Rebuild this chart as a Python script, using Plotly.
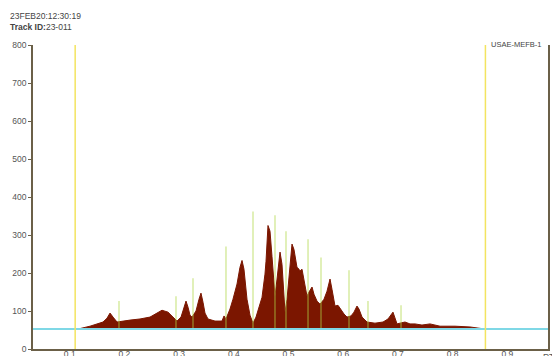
import plotly.graph_objects as go

# ---- data ----
rt = [0.1097, 0.1152, 0.1371, 0.1609, 0.1682, 0.1737, 0.1792, 0.1865, 0.2102, 0.2285,
      0.2468, 0.2578, 0.2687, 0.2797, 0.2888, 0.2962, 0.3035, 0.3090, 0.3126, 0.3163,
      0.3199, 0.3236, 0.3309, 0.3364, 0.3400, 0.3437, 0.3473, 0.3528, 0.3656, 0.3784,
      0.3821, 0.3857, 0.3930, 0.3985, 0.4059, 0.4113, 0.4150, 0.4186, 0.4241, 0.4296,
      0.4351, 0.4406, 0.4461, 0.4516, 0.4570, 0.4589, 0.4625, 0.4662, 0.4698, 0.4735,
      0.4753, 0.4790, 0.4826, 0.4845, 0.4881, 0.4918, 0.4936, 0.4973, 0.5009, 0.5046,
      0.5064, 0.5100, 0.5137, 0.5155, 0.5192, 0.5210, 0.5247, 0.5283, 0.5338, 0.5375,
      0.5430, 0.5466, 0.5521, 0.5576, 0.5649, 0.5704, 0.5759, 0.5795, 0.5850, 0.5905,
      0.5960, 0.6015, 0.6070, 0.6143, 0.6197, 0.6252, 0.6289, 0.6344, 0.6435, 0.6581,
      0.6728, 0.6819, 0.6910, 0.6947, 0.6984, 0.7038, 0.7130, 0.7221, 0.7313, 0.7440,
      0.7587, 0.7770, 0.8044, 0.8318, 0.8501, 0.8592]
signal = [52.5, 52.5, 60, 71, 81, 94.5, 84, 71, 76, 79,
          84, 92, 102, 97, 84, 73.5, 84, 110, 126, 110,
          89, 84, 100, 131, 147, 123, 94.5, 79, 73.5, 73.5,
          87, 79, 105, 131, 171, 215, 233, 210, 131, 89,
          68, 84, 110, 136, 197, 231, 325, 310, 244, 171,
          139, 184, 241, 255, 223, 142, 97, 131, 197, 257,
          276, 262, 231, 215, 210, 205, 210, 178, 139, 150,
          163, 144, 126, 118, 131, 152, 184, 157, 113, 115,
          102, 92, 84, 87, 97, 113, 105, 84, 71, 68,
          71, 79, 97, 84, 66, 68, 71, 66, 66, 63,
          66, 60, 60, 58, 55, 52.5]

baseline_level = 52.5
baseline_x = [0.0329, 0.9744]

marker_rt = [0.1901, 0.2943, 0.3254, 0.3857, 0.4351, 0.4753, 0.4954, 0.5357,
             0.5594, 0.6106, 0.6453, 0.7057]
marker_top = [126, 139, 186, 270, 362, 352, 310, 289, 241, 207, 126, 115]

window_rt = [0.11, 0.86]

y_ticks = [0, 100, 200, 300, 400, 500, 600, 700, 800]
x_ticks = [0.1, 0.2, 0.3, 0.4, 0.5, 0.6, 0.7, 0.8, 0.9]
x_tick_labels = ["0.1", "0.2", "0.3", "0.4", "0.5", "0.6", "0.7", "0.8", "0.9"]

FONT = "Liberation Sans"

fig = go.Figure()

# chromatogram fill
fig.add_trace(go.Scatter(x=rt, y=signal, mode="lines", fill="toself",
                         fillcolor="#7b1600", line=dict(color="#7b1600", width=1),
                         hoverinfo="skip", showlegend=False))

# peak markers
mx, my = [], []
for x, t in zip(marker_rt, marker_top):
    mx += [x, x, None]
    my += [baseline_level, t, None]
fig.add_trace(go.Scatter(x=mx, y=my, mode="lines",
                         line=dict(color="rgba(175,215,70,0.5)", width=1.5),
                         hoverinfo="skip", showlegend=False))

# baseline
fig.add_trace(go.Scatter(x=baseline_x, y=[baseline_level, baseline_level], mode="lines",
                         line=dict(color="#7fd8e6", width=2),
                         hoverinfo="skip", showlegend=False))

# integration window lines
wx, wy = [], []
for x in window_rt:
    wx += [x, x, None]
    wy += [0, 800, None]
fig.add_trace(go.Scatter(x=wx, y=wy, mode="lines",
                         line=dict(color="#f3e460", width=1.5),
                         hoverinfo="skip", showlegend=False))

axis_col = "#6b6048"
fig.update_layout(
    width=552, height=356,
    margin=dict(l=33, r=4, t=45, b=7),
    paper_bgcolor="white", plot_bgcolor="white",
    font=dict(family=FONT, size=8.5, color="#555555"),
    xaxis=dict(range=[baseline_x[0], baseline_x[1]], tickvals=x_ticks, ticktext=x_tick_labels,
               showgrid=False, zeroline=False, showline=True, linecolor=axis_col, linewidth=1.5,
               ticks="", automargin=False, ticklabelstandoff=-4,
               tickfont=dict(family=FONT, size=8.5, color="#555555")),
    yaxis=dict(range=[0, 800], tickvals=y_ticks, showgrid=False, zeroline=False,
               showline=True, mirror=True, linecolor=axis_col, linewidth=1.5,
               ticks="outside", ticklen=3, tickcolor=axis_col, automargin=False,
               tickfont=dict(family=FONT, size=8.5, color="#555555")),
    annotations=[
        dict(text="23FEB20:12:30:19", xref="paper", yref="paper", x=-0.048, y=1.095,
             xanchor="left", yanchor="middle", showarrow=False,
             font=dict(family=FONT, size=8.5, color="#444444")),
        dict(text="<b>Track ID:</b>23-011", xref="paper", yref="paper", x=-0.048, y=1.059,
             xanchor="left", yanchor="middle", showarrow=False,
             font=dict(family=FONT, size=8.5, color="#444444")),
        dict(text="USAE-MEFB-1", xref="paper", yref="paper", x=0.885, y=1.003,
             xanchor="left", yanchor="middle", showarrow=False,
             font=dict(family=FONT, size=7.5, color="#444444")),
        dict(text="RT", xref="paper", yref="paper", x=0.986, y=-0.003,
             xanchor="left", yanchor="top", showarrow=False,
             font=dict(family=FONT, size=8.5, color="#555555")),
    ],
)

fig.write_html("out.html", config={"displayModeBar": False},
               post_script="document.body.style.margin='0';document.body.style.overflow='hidden';")
